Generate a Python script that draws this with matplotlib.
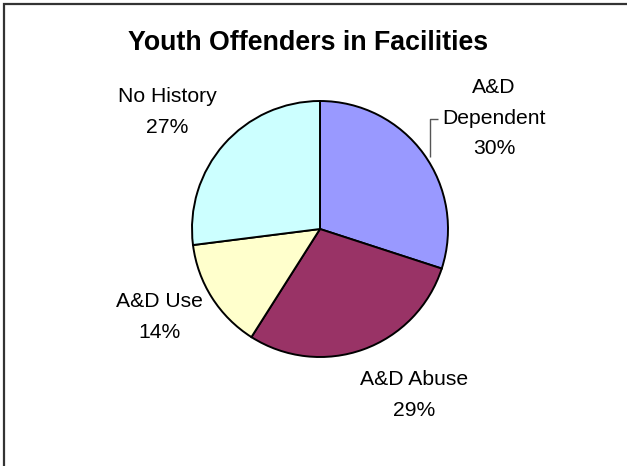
import matplotlib
matplotlib.use("Agg")
import matplotlib.pyplot as plt
from matplotlib.patches import Rectangle

plt.rcParams['font.family'] = ['Liberation Sans', 'DejaVu Sans']

title = "Youth Offenders in Facilities"
categories = ["A&D\nDependent", "A&D Abuse", "A&D Use", "No History"]
values = [30, 29, 14, 27]
colors = ["#9999FF", "#993366", "#FFFFCC", "#CCFFFF"]

W, H = 627, 466
fig = plt.figure(figsize=(W / 100, H / 100), dpi=100)
ax = fig.add_axes([0, 0, 1, 1])

cx, cy, r = 320, H - 229, 128
ax.pie(values, colors=colors, startangle=90, counterclock=False,
       center=(cx, cy), radius=r, frame=True,
       wedgeprops=dict(edgecolor="black", linewidth=1.4))
ax.set_xlim(0, W)
ax.set_ylim(0, H)
ax.set_aspect("equal")
ax.axis("off")

# chart frame (left and top edges visible)
ax.add_patch(Rectangle((3.5, -10), W + 20, H - 3.5 + 10, fill=False,
                       edgecolor="#333333", linewidth=1.6, zorder=5))

label_pos = [(494, H - 118), (414, H - 395), (159, H - 317), (167, H - 112)]
for name, v, (lx, ly) in zip(categories, values, label_pos):
    ax.text(lx, ly, f"{name}\n{v}%", ha="center", va="center",
            fontsize=15.2, linespacing=1.77, color="black")

# leader line for the first slice label
ax.plot([438, 430, 430], [H - 119, H - 119, H - 157], color="#555555",
        linewidth=1.0, solid_capstyle="butt")

ax.text(308, H - 43, title, ha="center", va="center",
        fontsize=19.3, fontweight="bold")

fig.savefig("out.png", dpi=100)
